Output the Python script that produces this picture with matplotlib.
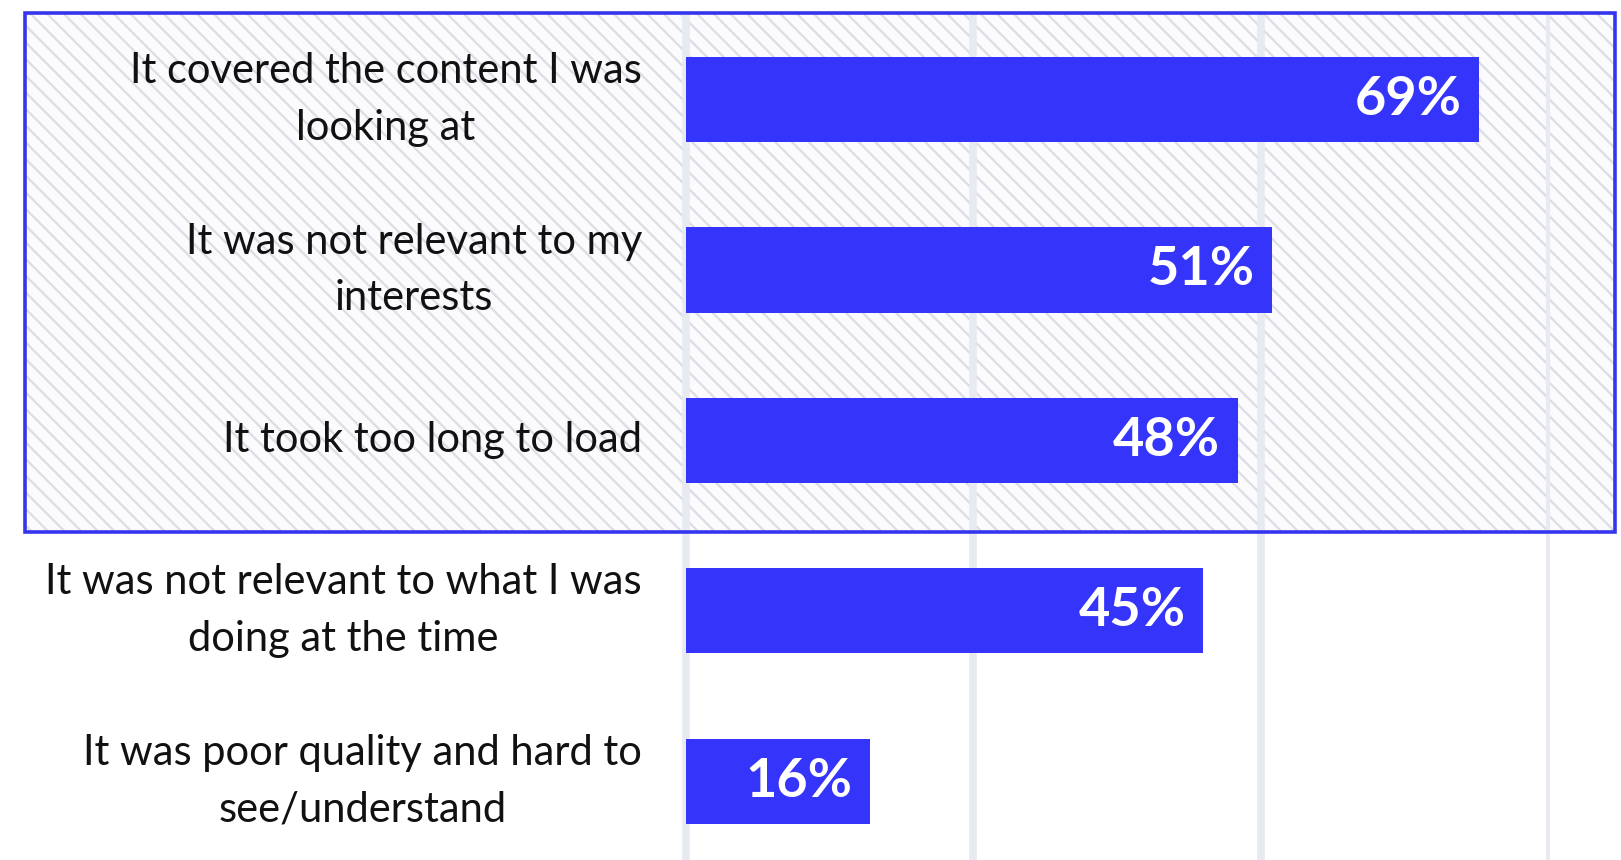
import matplotlib.pyplot as plt
from matplotlib.patches import Rectangle

plt.rcParams['font.family'] = ['Lato', 'DejaVu Sans']
plt.rcParams['hatch.linewidth'] = 1.6

labels = [
    "It covered the content I was\nlooking at",
    "It was not relevant to my\ninterests",
    "It took too long to load",
    "It was not relevant to what I was\ndoing at the time",
    "It was poor quality and hard to\nsee/understand",
]
values = [69, 51, 48, 45, 16]
grid_ticks = [0, 25, 50, 75]
grid_widths = [5.5, 5.5, 5.5, 3.0]

bar_color = '#3434fa'
grid_color = '#e7eaf0'

fig = plt.figure(figsize=(16.21, 8.60), dpi=100)
ax = fig.add_axes([0, 0, 1, 1])
ax.axis('off')

# pixel layout helpers: 0% at x=686px, 11.49 px per percent
px_per = 11.49
x0 = 686
ax.set_xlim((0 - x0) / px_per, (1621 - x0) / px_per)
y0, dy = 99.5, 170.4
ax.set_ylim((860 - y0) / dy, (0 - y0) / dy)

def px_x(p):
    return (p - x0) / px_per

def px_y(p):
    return (p - y0) / dy

# highlighted box
bx, by = px_x(25), px_y(13)
bw, bh = px_x(1615) - bx, px_y(532) - by
box = Rectangle((bx, by), bw, bh, facecolor='#fbfbfd', edgecolor='#dcdce5',
                lw=0, hatch='\\\\', zorder=0)
ax.add_patch(box)

for t, w in zip(grid_ticks, grid_widths):
    ax.plot([t, t], [px_y(13), px_y(860)], color=grid_color, lw=w, zorder=1,
            solid_capstyle='butt')

border = Rectangle((bx, by), bw, bh, facecolor='none', edgecolor='#3535ee',
                   lw=2.6, zorder=2)
ax.add_patch(border)

ypos = list(range(len(values)))
ax.barh(ypos, values, height=0.5, color=bar_color, zorder=3)

for y, v, lab in zip(ypos, values, labels):
    ax.text(v - 1.5, y, f"{v}%", ha='right', va='center', color='white',
            fontsize=39, fontweight='bold', zorder=4)
    ax.text(px_x(642), y, lab, ha='right', va='center', multialignment='center',
            color='#111111', fontsize=30, linespacing=1.6, zorder=4)

fig.savefig('out.png', dpi=100)
